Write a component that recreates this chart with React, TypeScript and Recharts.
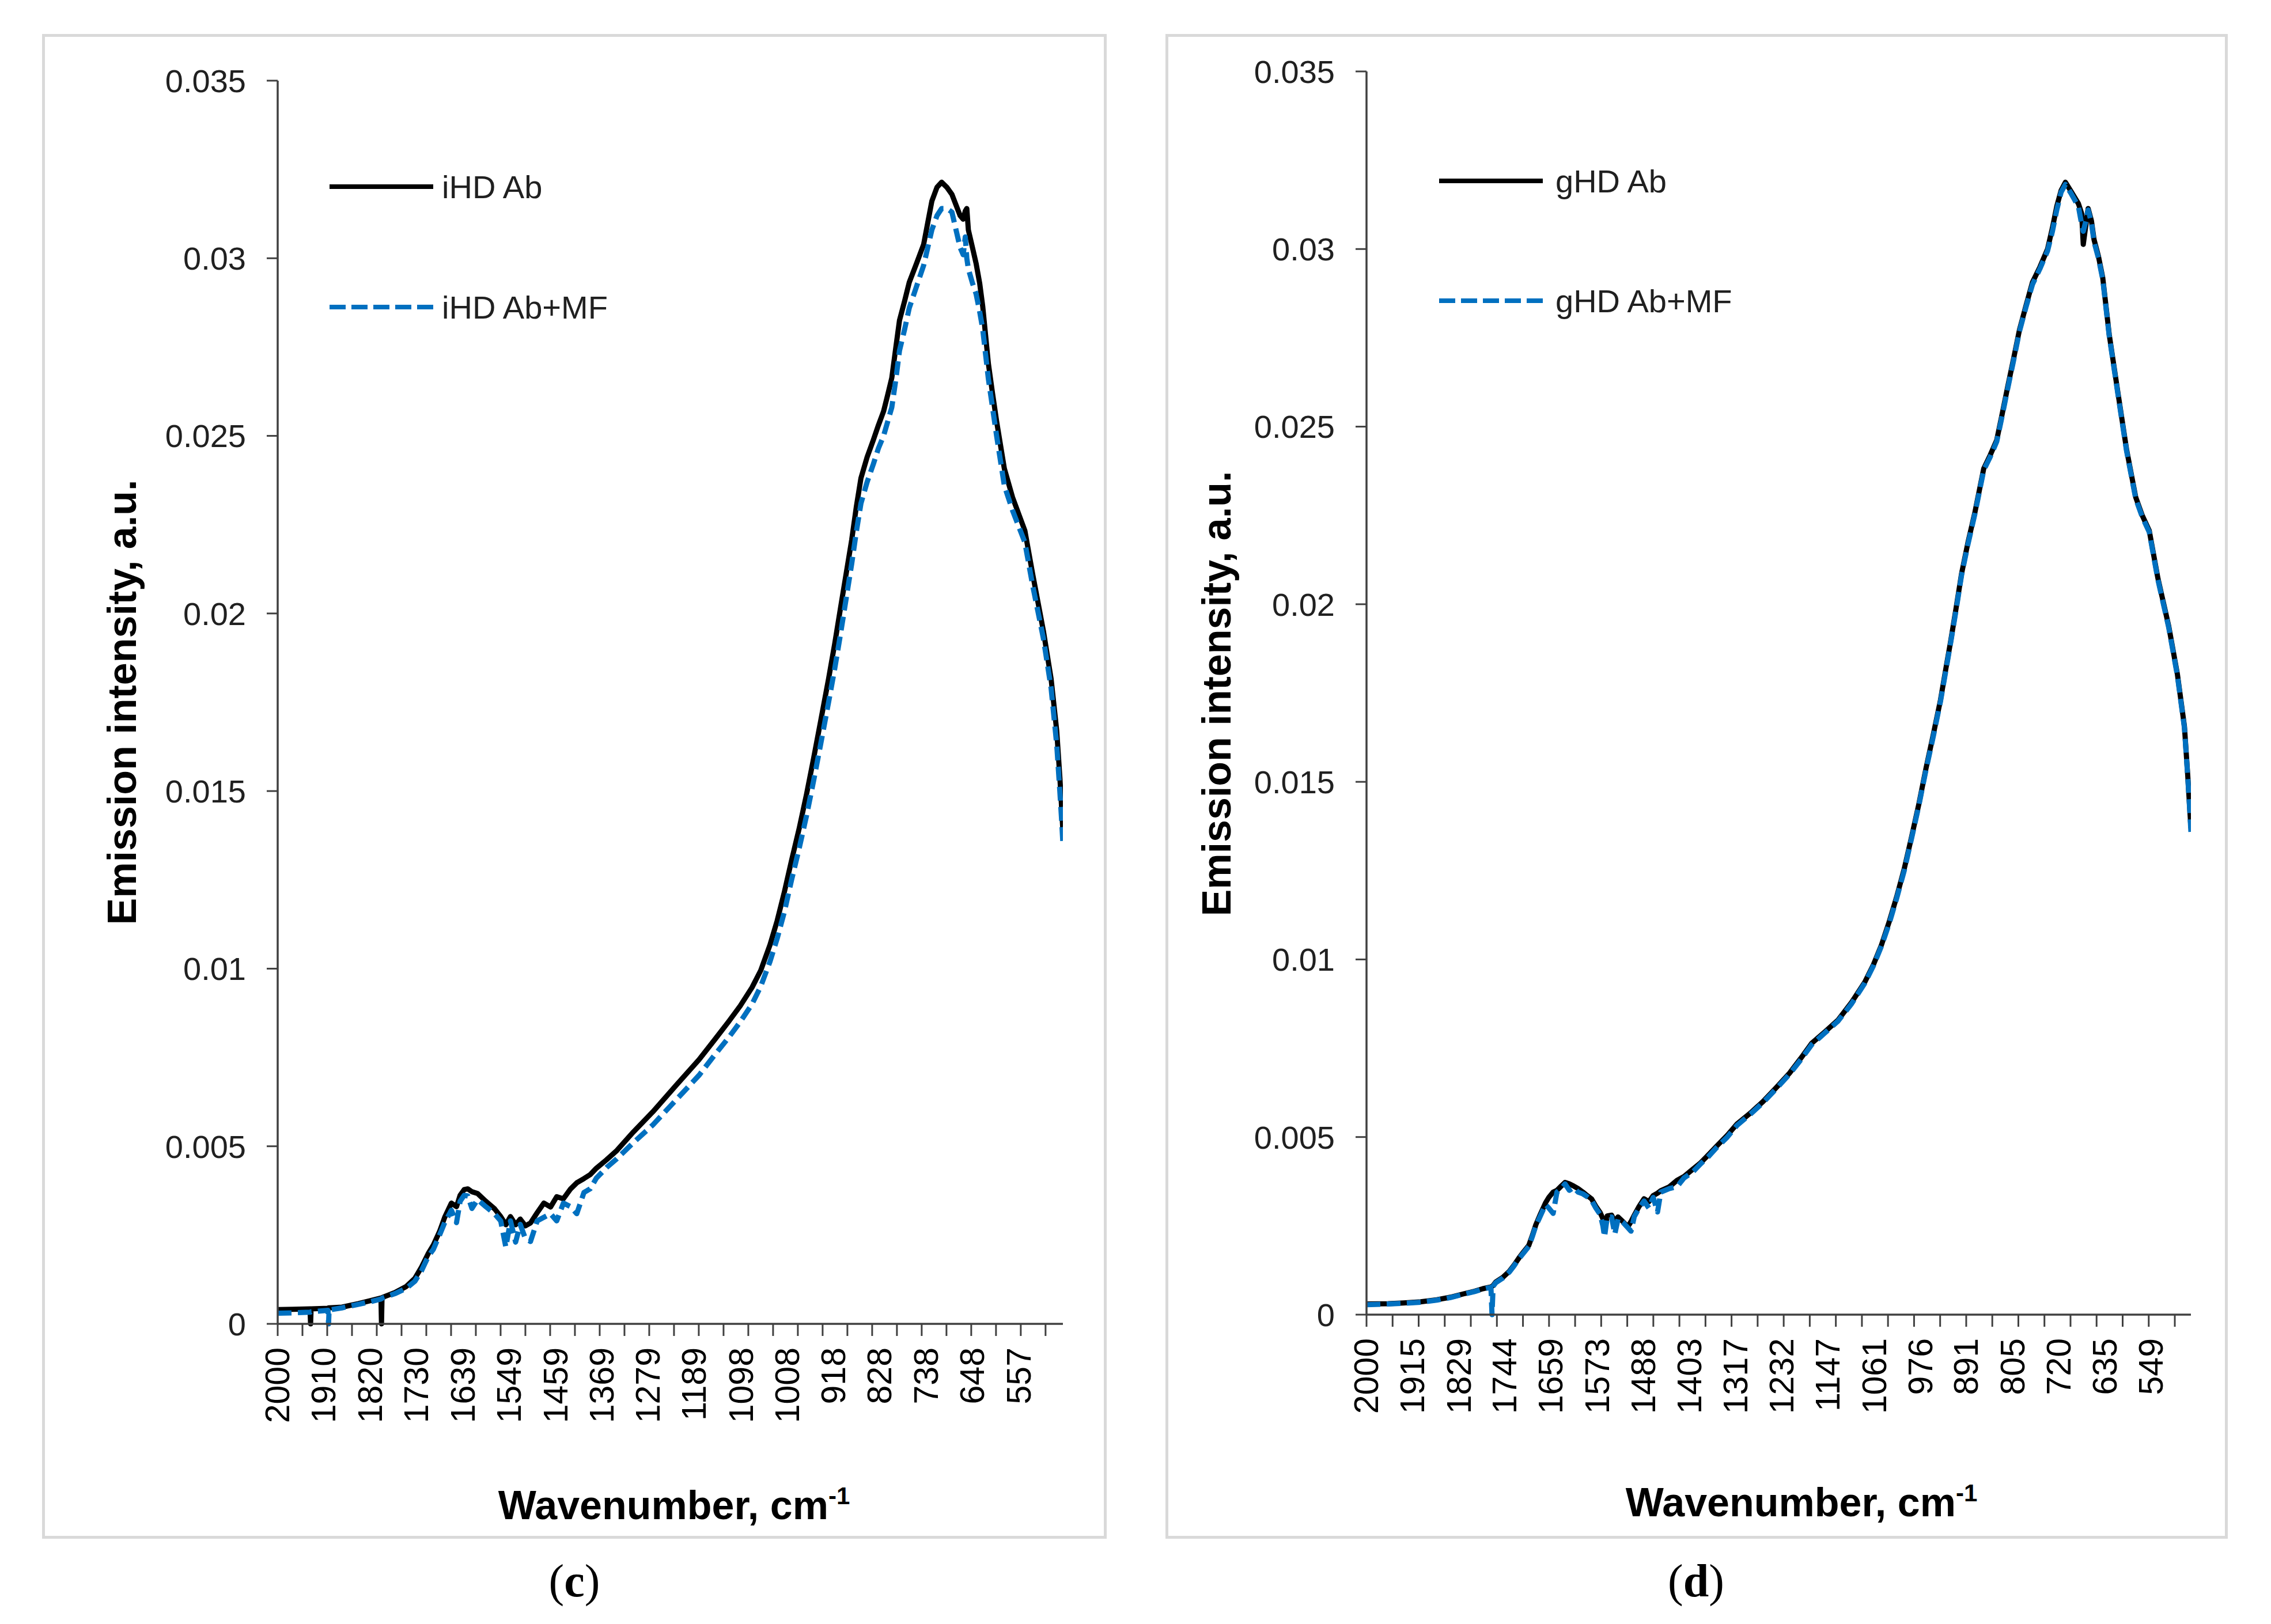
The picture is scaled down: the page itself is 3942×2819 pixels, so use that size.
import React from 'react';
import { LineChart, Line, XAxis, YAxis, Legend } from 'recharts';

// panel (c): wavenumber, cm-1, and emission intensity of the two samples
const cWavenumber = [
  2000, 1970, 1937, 1936, 1935, 1902, 1901, 1900, 1875, 1843, 1818, 1799, 1798, 1797, 1772, 1750, 1733, 1720,
  1707, 1697, 1685, 1675, 1662, 1652, 1645, 1637, 1630, 1622, 1611, 1595, 1578, 1566, 1556, 1547, 1537, 1528,
  1518, 1508, 1495, 1482, 1469, 1457, 1444, 1430, 1418, 1404, 1392, 1380, 1360, 1340, 1308, 1270, 1225, 1180,
  1148, 1123, 1100, 1077, 1060, 1042, 1028, 1014, 1000, 985, 971, 957, 943, 928, 916, 905, 894, 883, 874, 865,
  853, 841, 831, 821, 813, 805, 797, 790, 780, 771, 757, 743, 735, 727, 717, 708, 698, 688, 680, 672, 666, 662,
  659, 656, 648, 641, 634, 628, 617, 609, 601, 586, 570, 558, 546, 531, 510, 495, 484, 478, 475, 472,
];
const cAb = [
  0.0004, 0.00041, 0.00042, 0.0, 0.00042, 0.00044, 0.00045, 0.00045, 0.00047, 0.00057, 0.00066, 0.00073, 0.0,
  0.00074, 0.00088, 0.00105, 0.00128, 0.0016, 0.00198, 0.00222, 0.0026, 0.003, 0.0034, 0.0033, 0.00362, 0.00378,
  0.0038, 0.00372, 0.00367, 0.00345, 0.00324, 0.00302, 0.00279, 0.00302, 0.00279, 0.00295, 0.00276, 0.00284,
  0.00313, 0.0034, 0.00329, 0.00358, 0.00352, 0.0038, 0.00397, 0.00409, 0.0042, 0.00438, 0.00462, 0.00488,
  0.0054, 0.00597, 0.00671, 0.00744, 0.00803, 0.0085, 0.00895, 0.00947, 0.00995, 0.01067, 0.01135, 0.01216,
  0.01305, 0.01396, 0.0149, 0.01593, 0.017, 0.01816, 0.01915, 0.02013, 0.0211, 0.02207, 0.023, 0.02381, 0.0244,
  0.02488, 0.0253, 0.02569, 0.02615, 0.02663, 0.0275, 0.02825, 0.0288, 0.02932, 0.02985, 0.03039, 0.031,
  0.03161, 0.032, 0.03214, 0.032, 0.0318, 0.0315, 0.0312, 0.0311, 0.03133, 0.0314, 0.0308, 0.0303, 0.02986,
  0.0293, 0.02864, 0.02703, 0.0262, 0.02541, 0.02408, 0.02327, 0.0228, 0.02233, 0.02112, 0.01951, 0.01816,
  0.01669, 0.0154, 0.01466, 0.01387,
];
const cAbMF = [
  0.0003, 0.00031, 0.00033, 0.00033, 0.00034, 0.00038, 0.0, 0.00039, 0.00045, 0.00055, 0.00063, 0.0007, 0.00071,
  0.00072, 0.00085, 0.001, 0.0012, 0.0015, 0.0019, 0.0021, 0.0025, 0.00285, 0.0032, 0.00285, 0.00345, 0.00362,
  0.0036, 0.00325, 0.0035, 0.0033, 0.0031, 0.0029, 0.00216, 0.0029, 0.0023, 0.0028, 0.0024, 0.00232, 0.0029,
  0.003, 0.0031, 0.0029, 0.0034, 0.0033, 0.0031, 0.0037, 0.0038, 0.0041, 0.0044, 0.00465, 0.0051, 0.0056,
  0.0063, 0.007, 0.0076, 0.00805, 0.0085, 0.009, 0.0095, 0.0102, 0.01085, 0.0116, 0.0125, 0.0134, 0.0143,
  0.0153, 0.01635, 0.0175, 0.01845, 0.0194, 0.0204, 0.0214, 0.0223, 0.0231, 0.0237, 0.0242, 0.02465, 0.025,
  0.0254, 0.0258, 0.0266, 0.0274, 0.028, 0.0286, 0.0292, 0.0298, 0.0303, 0.0308, 0.0312, 0.0314, 0.0314,
  0.0313, 0.0308, 0.0303, 0.0301, 0.0306, 0.03, 0.0297, 0.0293, 0.029, 0.0285, 0.028, 0.0266, 0.0258, 0.025,
  0.0236, 0.0229, 0.02245, 0.022, 0.0208, 0.0193, 0.0179, 0.0163, 0.015, 0.0143, 0.01353,
];
const cTickLabels = [2000, 1910, 1820, 1730, 1639, 1549, 1459, 1369, 1279, 1189, 1098, 1008, 918, 828, 738, 648, 557];

// panel (d)
const dWavenumber = [
  2000, 1960, 1932, 1900, 1870, 1845, 1822, 1800, 1785, 1770, 1768, 1766, 1761, 1748, 1736, 1727, 1718, 1709,
  1700, 1693, 1687, 1678, 1669, 1663, 1655, 1648, 1640, 1633, 1625, 1617, 1609, 1600, 1592, 1584, 1576, 1568,
  1563, 1560, 1555, 1547, 1541, 1535, 1526, 1517, 1511, 1505, 1496, 1487, 1478, 1470, 1462, 1456, 1440, 1426,
  1413, 1398, 1382, 1368, 1353, 1333, 1315, 1290, 1267, 1242, 1218, 1197, 1177, 1152, 1128, 1103, 1079, 1063,
  1048, 1034, 1020, 1006, 993, 979, 966, 952, 939, 930, 920, 910, 900, 888, 875, 859, 847, 835, 825, 815, 804,
  793, 781, 769, 755, 741, 732, 724, 716, 708, 697, 684, 678, 675, 670, 666, 660, 655, 647, 639, 627, 611, 595,
  578, 566, 553, 537, 517, 501, 488, 482, 478, 476,
];
const dAb = [
  0.0003, 0.00031, 0.00033, 0.00036, 0.00042, 0.00049, 0.00058, 0.00066, 0.00073, 0.00078, 0.0008, 0.00082,
  0.00092, 0.00105, 0.00122, 0.0014, 0.0016, 0.00178, 0.00195, 0.00225, 0.00253, 0.00285, 0.00315, 0.0033,
  0.00345, 0.0035, 0.00362, 0.00372, 0.00368, 0.00362, 0.00355, 0.00345, 0.00335, 0.00326, 0.00305, 0.00287,
  0.0027, 0.00235, 0.00278, 0.0028, 0.00262, 0.00275, 0.00262, 0.00247, 0.00262, 0.0028, 0.00305, 0.00326,
  0.00318, 0.00335, 0.00342, 0.00349, 0.0036, 0.00378, 0.00389, 0.00408, 0.00428, 0.0045, 0.00474, 0.00505,
  0.00537, 0.00568, 0.006, 0.0064, 0.0068, 0.00722, 0.00764, 0.00797, 0.0083, 0.0088, 0.00936, 0.00985,
  0.01041, 0.01105, 0.01176, 0.01255, 0.01341, 0.01437, 0.01536, 0.01635, 0.0173, 0.0181, 0.01897, 0.0199,
  0.02086, 0.02175, 0.02261, 0.02382, 0.0242, 0.02462, 0.02535, 0.0261, 0.0269, 0.02772, 0.0284, 0.02906,
  0.0295, 0.03, 0.0306, 0.0312, 0.03165, 0.03188, 0.03161, 0.03128, 0.031, 0.03013, 0.0307, 0.03114, 0.0308,
  0.03026, 0.0298, 0.02919, 0.02759, 0.02596, 0.02436, 0.02301, 0.0225, 0.02207, 0.02073, 0.01938, 0.01803,
  0.01656, 0.01521, 0.0142, 0.0137,
];
const dAbMF = [
  0.00028, 0.0003, 0.00032, 0.00035, 0.00041, 0.00048, 0.00057, 0.00065, 0.00072, 0.00077, 0.0, 0.0008,
  0.0009, 0.00103, 0.0012, 0.00138, 0.00158, 0.00175, 0.00192, 0.00222, 0.0025, 0.0028, 0.0031, 0.003,
  0.00285, 0.00345, 0.00355, 0.00368, 0.0035, 0.00358, 0.00345, 0.0034, 0.00332, 0.00322, 0.003, 0.00282,
  0.0025, 0.00219, 0.00275, 0.00275, 0.00227, 0.0027, 0.0026, 0.00245, 0.00235, 0.00276, 0.003, 0.0032,
  0.003, 0.0033, 0.00289, 0.00345, 0.00355, 0.0036, 0.00385, 0.004, 0.00425, 0.00445, 0.0047, 0.005,
  0.00533, 0.00565, 0.00597, 0.00637, 0.00677, 0.00718, 0.0076, 0.00794, 0.00827, 0.00876, 0.00933, 0.00982,
  0.01038, 0.011, 0.01172, 0.0125, 0.01337, 0.01433, 0.01532, 0.0163, 0.01726, 0.01805, 0.01893, 0.01985,
  0.02082, 0.0217, 0.02257, 0.02378, 0.02415, 0.02458, 0.0253, 0.02605, 0.02685, 0.02768, 0.02836, 0.029,
  0.02945, 0.02995, 0.0305, 0.0311, 0.0316, 0.03182, 0.03155, 0.0312, 0.0307, 0.0305, 0.0308, 0.0311, 0.03075,
  0.0302, 0.02975, 0.02915, 0.02755, 0.02592, 0.02432, 0.02297, 0.02246, 0.02203, 0.02069, 0.01934, 0.01799,
  0.01652, 0.01517, 0.01415, 0.01359,
];
const dTickLabels = [2000, 1915, 1829, 1744, 1659, 1573, 1488, 1403, 1317, 1232, 1147, 1061, 976, 891, 805, 720, 635, 549];

const yTicks = [0, 0.005, 0.01, 0.015, 0.02, 0.025, 0.03, 0.035];

const AXIS = '#404040';
const BLUE = '#0070C0';
const SANS = '"Liberation Sans", Arial, sans-serif';
const TICK_STEP = 48.2; // minor tick marks every 50 points of the spectrum

const XTick = ({ x, y, payload, labels, minor }: any) => {
  const v = payload.value;
  const isLabel = labels.includes(v);
  const isMinor = minor.some((m: number) => Math.abs(m - v) < 1e-6);
  return (
    <g>
      {isMinor && <line x1={x} x2={x} y1={y - 41} y2={y - 20} stroke={AXIS} strokeWidth={3} />}
      {isLabel && (
        <text
          x={x}
          y={y}
          transform={`rotate(-90 ${x} ${y})`}
          textAnchor="end"
          dominantBaseline="central"
          fill="#000"
          fontSize={59}
          fontFamily={SANS}
        >
          {v}
        </text>
      )}
    </g>
  );
};

const Panel = ({ wn, ab, abmf, labels, names, cfg }: any) => {
  const data = wn.map((w: number, i: number) => ({ w, ab: ab[i], abmf: abmf[i] }));
  const count = Math.floor((2000 - cfg.xMin) / TICK_STEP) + 1;
  const minor = Array.from({ length: count }, (_, i) => +(2000 - i * TICK_STEP).toFixed(1));
  const ticks = Array.from(new Set([...minor, ...labels]));

  const renderLegend = () => (
    <svg width={700} height={cfg.legend.gap + 80}>
      {names.map((n: string, i: number) => (
        <g key={n}>
          <line
            x1={0}
            x2={180}
            y1={40 + i * cfg.legend.gap}
            y2={40 + i * cfg.legend.gap}
            stroke={i === 0 ? '#000' : BLUE}
            strokeWidth={8}
            strokeDasharray={i === 0 ? undefined : '28 10'}
          />
          <text x={cfg.legend.textX} y={40 + i * cfg.legend.gap} dominantBaseline="central" fontSize={56} fontFamily={SANS} fill="#202020">
            {n}
          </text>
        </g>
      ))}
    </svg>
  );

  return (
    <>
      <div
        style={{
          position: 'absolute',
          left: cfg.box.left,
          top: cfg.box.top,
          width: cfg.box.width,
          height: cfg.box.height,
          border: '5px solid #d9d9d9',
          boxSizing: 'border-box',
        }}
      />
      <div style={{ position: 'absolute', left: cfg.box.left, top: cfg.box.top }}>
        <LineChart
          width={cfg.box.width}
          height={cfg.box.height}
          data={data}
          margin={{ top: cfg.margin.top, right: cfg.margin.right, bottom: 0, left: 0 }}
        >
          <XAxis
            dataKey="w"
            type="number"
            domain={[cfg.xMin, 2000]}
            reversed
            allowDataOverflow
            ticks={ticks}
            interval={0}
            tickLine={false}
            tickSize={0}
            tickMargin={41}
            height={cfg.xAxisHeight}
            axisLine={{ stroke: AXIS, strokeWidth: 3.5 }}
            tick={(p: any) => <XTick {...p} labels={labels} minor={minor} />}
            label={{
              content: () => (
                <text x={cfg.xTitle.x} y={cfg.xTitle.y} textAnchor="middle" fontSize={70} fontWeight="bold" fontFamily={SANS} fill="#000">
                  Wavenumber, cm<tspan dy={-26} fontSize={42}>-1</tspan>
                </text>
              ),
            }}
          />
          <YAxis
            type="number"
            domain={[0, 0.035]}
            ticks={yTicks}
            interval={0}
            width={cfg.yAxisWidth}
            tickSize={19}
            tickMargin={36}
            tickLine={{ stroke: AXIS, strokeWidth: 3 }}
            axisLine={{ stroke: AXIS, strokeWidth: 3.5 }}
            tick={{ fill: '#202020', fontSize: 56, fontFamily: SANS }}
            label={{
              content: () => (
                <text
                  x={cfg.yTitle.x}
                  y={cfg.yTitle.y}
                  transform={`rotate(-90 ${cfg.yTitle.x} ${cfg.yTitle.y})`}
                  textAnchor="middle"
                  dominantBaseline="central"
                  fontSize={70}
                  fontWeight="bold"
                  fontFamily={SANS}
                  fill="#000"
                >
                  Emission intensity, a.u.
                </text>
              ),
            }}
          />
          <Legend
            layout="horizontal"
            verticalAlign="middle"
            align="center"
            content={renderLegend}
            wrapperStyle={{ left: cfg.legend.x, top: cfg.legend.y - 40, width: 700, height: cfg.legend.gap + 80 }}
          />
          <Line
            type="linear"
            dataKey="ab"
            name={names[0]}
            stroke="#000"
            strokeWidth={9}
            strokeLinejoin="round"
            dot={false}
            activeDot={false}
            isAnimationActive={false}
          />
          <Line
            type="linear"
            dataKey="abmf"
            name={names[1]}
            stroke={BLUE}
            strokeWidth={9}
            strokeDasharray="24 11"
            strokeLinejoin="round"
            dot={false}
            activeDot={false}
            isAnimationActive={false}
          />
        </LineChart>
      </div>
      <div
        style={{
          position: 'absolute',
          left: cfg.caption.x - 150,
          top: cfg.caption.y - 50,
          width: 300,
          lineHeight: '100px',
          textAlign: 'center',
          fontFamily: '"Liberation Serif", "Times New Roman", serif',
          fontSize: 80,
          color: '#000',
        }}
      >
        (<b>{cfg.caption.letter}</b>)
      </div>
    </>
  );
};

const cConfig = {
  box: { left: 73, top: 59, width: 1848, height: 2612 },
  margin: { top: 81, right: 76 },
  yAxisWidth: 409,
  xAxisHeight: 373,
  xMin: 472,
  yTitle: { x: 139, y: 1160 },
  xTitle: { x: 1097, y: 2578 },
  legend: { x: 499, y: 265, gap: 209, textX: 195 },
  caption: { x: 997, y: 2744, letter: 'c' },
};

const dConfig = {
  box: { left: 2023, top: 59, width: 1844, height: 2612 },
  margin: { top: 65, right: 64 },
  yAxisWidth: 349,
  xAxisHeight: 389,
  xMin: 476,
  yTitle: { x: 89, y: 1145 },
  xTitle: { x: 1104, y: 2573 },
  legend: { x: 475, y: 255, gap: 208, textX: 202 },
  caption: { x: 2944, y: 2744, letter: 'd' },
};

export default function App() {
  return (
    <div style={{ position: 'relative', width: 3942, height: 2819, background: '#fff', overflow: 'hidden' }}>
      <style>{'body{margin:0}'}</style>
      <Panel wn={cWavenumber} ab={cAb} abmf={cAbMF} labels={cTickLabels} names={['iHD Ab', 'iHD Ab+MF']} cfg={cConfig} />
      <Panel wn={dWavenumber} ab={dAb} abmf={dAbMF} labels={dTickLabels} names={['gHD Ab', 'gHD Ab+MF']} cfg={dConfig} />
    </div>
  );
}
